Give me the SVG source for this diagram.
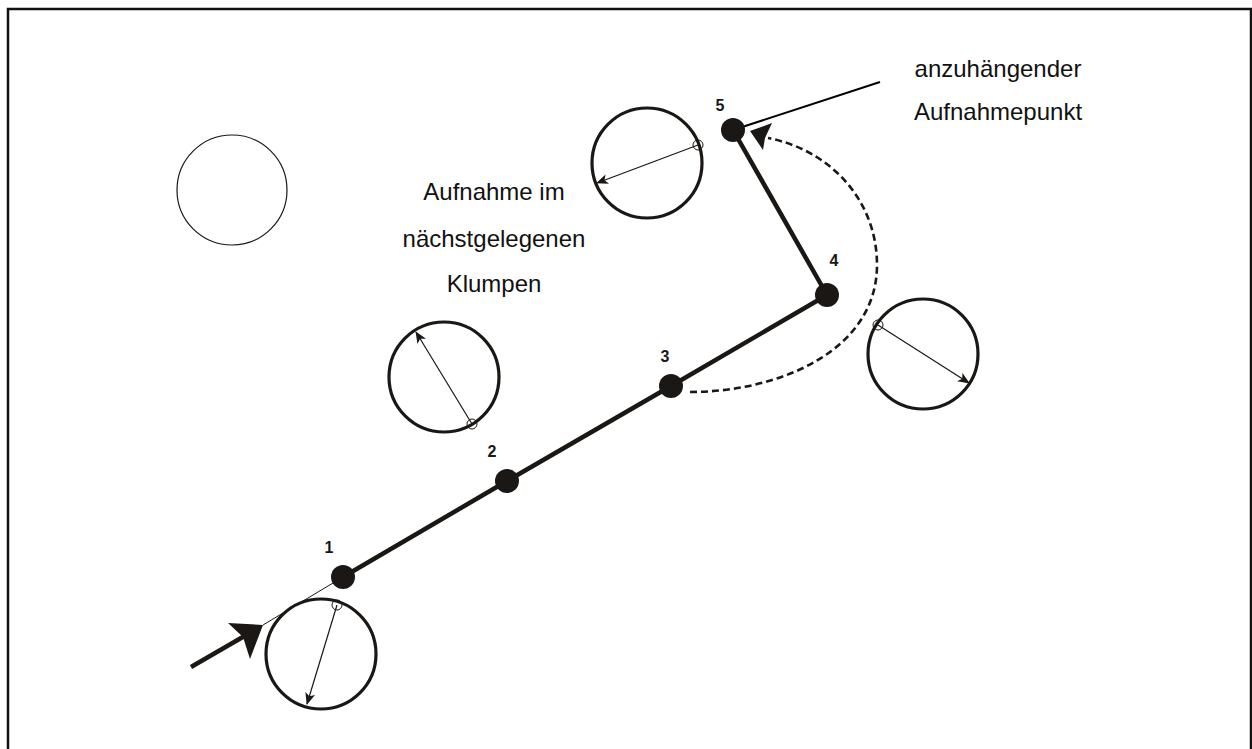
<svg xmlns="http://www.w3.org/2000/svg" width="1252" height="749" viewBox="0 0 1252 749">
<style>
.frame{fill:none;stroke:#111;stroke-width:2.5}
.clump{fill:none;stroke:#1a1714;stroke-width:3.2}
.plain{fill:none;stroke:#1a1714;stroke-width:1.2}
.probe{fill:none;stroke:#1a1714;stroke-width:1}
.ray{fill:none;stroke:#1a1714;stroke-width:1.2;marker-end:url(#ah)}
.node{fill:#1a1714}
.path{fill:none;stroke:#1a1714;stroke-width:4.5;stroke-linejoin:round}
.thin{fill:none;stroke:#1a1714;stroke-width:1}
.lead{fill:none;stroke:#000;stroke-width:2}
.dash{fill:none;stroke:#1a1714;stroke-width:2.6;stroke-dasharray:7 4}
.head{fill:#1a1714}
.lbl{font-family:"Liberation Sans",Arial,sans-serif;font-weight:bold;font-size:16px;fill:#1a1714;text-anchor:middle}
.txt{font-family:"Liberation Sans",Arial,sans-serif;font-size:24px;fill:#111;text-anchor:middle}
</style>
<defs>
<marker id="ah" viewBox="0 0 12 10" refX="11" refY="5" markerWidth="12" markerHeight="10" markerUnits="userSpaceOnUse" orient="auto">
<path d="M0,0 L12,5 L0,10 L3,5 Z" fill="#1a1714"/>
</marker>
</defs>
<rect class="frame" x="8" y="9" width="1243" height="800"/>

<g id="plain-circle"><circle class="plain" cx="232" cy="190" r="55"/></g>

<g id="clump-bottom">
<circle class="clump" cx="321" cy="654" r="55"/>
<circle class="probe" cx="337" cy="605" r="5"/>
<line class="ray" x1="337" y1="605" x2="307" y2="704"/>
</g>
<g id="clump-left">
<circle class="clump" cx="444" cy="377" r="55"/>
<circle class="probe" cx="472" cy="424" r="5"/>
<line class="ray" x1="472" y1="424" x2="416" y2="332"/>
</g>
<g id="clump-top">
<circle class="clump" cx="647" cy="163" r="55"/>
<circle class="probe" cx="698" cy="145" r="5"/>
<line class="ray" x1="698" y1="145" x2="597" y2="183"/>
</g>
<g id="clump-right">
<circle class="clump" cx="923" cy="354" r="55"/>
<circle class="probe" cx="878" cy="325" r="5"/>
<line class="ray" x1="878" y1="325" x2="969" y2="383"/>
</g>

<g id="connectors">
<line class="path" x1="191" y1="667" x2="248" y2="634"/>
<polygon class="head" points="263,625 228,623 243,637 250,659"/>
<line class="thin" x1="263" y1="625" x2="343" y2="577"/>
<polyline class="path" points="343,577 507,481 671,386 827,295 733,130"/>
<path class="dash" d="M690,392 C780,392 877,350 877,265 C877,200 830,150 768,138"/>
<polygon class="head" points="750,131 772,123 765,138 763,150"/>
<line class="lead" x1="733" y1="130" x2="880" y2="82"/>
</g>

<g id="n1"><circle class="node" cx="343" cy="577" r="12"/><text class="lbl" x="329" y="553">1</text></g>
<g id="n2"><circle class="node" cx="507" cy="481" r="12"/><text class="lbl" x="492" y="457">2</text></g>
<g id="n3"><circle class="node" cx="671" cy="386" r="12"/><text class="lbl" x="665" y="362">3</text></g>
<g id="n4"><circle class="node" cx="827" cy="295" r="12"/><text class="lbl" x="834" y="266">4</text></g>
<g id="n5"><circle class="node" cx="733" cy="130" r="12"/><text class="lbl" x="720" y="111">5</text></g>

<g id="label-right">
<text class="txt" x="998" y="77">anzuhängender</text>
<text class="txt" x="998" y="120">Aufnahmepunkt</text>
</g>
<g id="label-left">
<text class="txt" x="494" y="200">Aufnahme im</text>
<text class="txt" x="494" y="247">nächstgelegenen</text>
<text class="txt" x="494" y="292">Klumpen</text>
</g>
</svg>
